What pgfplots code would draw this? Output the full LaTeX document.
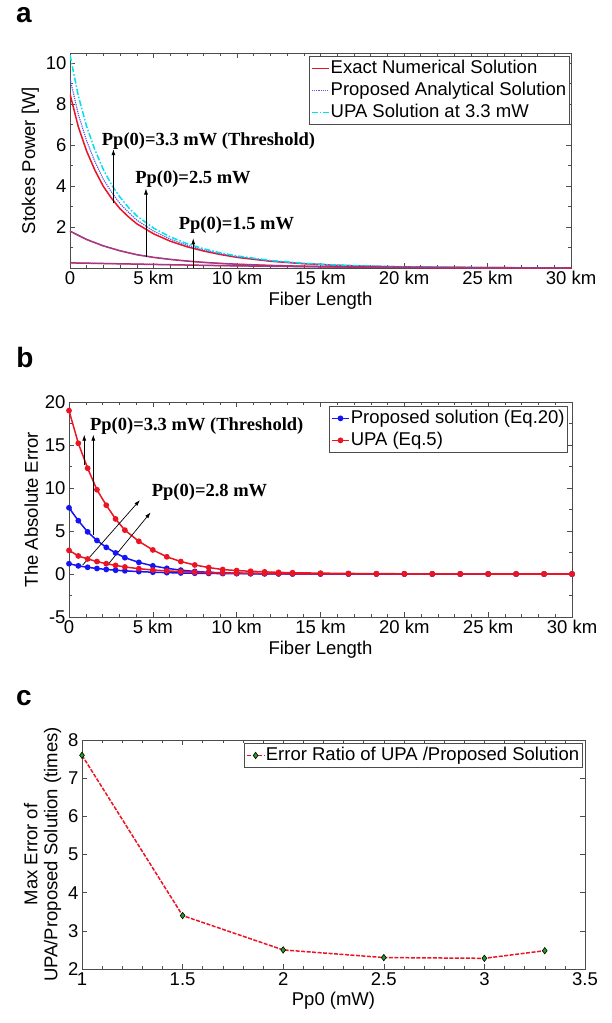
\documentclass[border=0pt]{standalone}
\usepackage{pgfplots}
\pgfplotsset{compat=1.18}
\usepackage{fontspec}
\setmainfont{Liberation Sans}
\newfontfamily\serifb{Liberation Serif}
\usetikzlibrary{arrows.meta}

\newcommand\fs{\fontsize{18.5}{20}\selectfont}
\newcommand\ann{\fontsize{18.5}{20}\selectfont\serifb\bfseries}

\definecolor{mred}{RGB}{235,20,35}
\definecolor{mdot}{RGB}{90,90,230}
\definecolor{mcyan}{RGB}{0,225,235}
\definecolor{mblue}{RGB}{20,20,245}
\definecolor{mgreen}{RGB}{30,160,30}

\tikzset{arr/.style={-{Latex[length=6pt,width=4pt]}, line width=0.7pt, black}}

\pgfplotsset{
  mstyle/.style={
    scale only axis,
    axis line style={black!70, line width=0.6pt},
    tick align=inside,
    major tick length=5pt, minor tick length=3pt,
    tick style={black!70, line width=0.5pt},
    tick label style={font=\fs},
    label style={font=\fs},
    /pgf/number format/assume math mode=true,
    legend style={font=\fs, draw=black!70, line width=0.6pt,
      inner xsep=2pt, inner ysep=2pt, row sep=2.5pt,
      nodes={inner sep=1pt, text height=13.5pt, text depth=4pt}},
    legend cell align=left,
  },
}

\begin{document}
\begin{tikzpicture}[x=1pt,y=1pt]
\useasboundingbox (0,0) rectangle (612,-1023);

% ---------- panel a ----------
\node[font=\fontsize{28}{30}\selectfont\bfseries] at (24,-15) {a};
\begin{axis}[mstyle,
  at={(70pt,-268pt)}, anchor=south west,
  width=501pt, height=215pt,
  xmin=0, xmax=30, ymin=0, ymax=10.5,
  xtick={0,5,...,30},
  xticklabels={0,5 km,10 km,15 km,20 km,25 km,30 km},
  minor x tick num=4,
  ytick={2,4,6,8,10}, minor ytick={1,3,5,7,9},
  xlabel={Fiber Length}, ylabel={Stokes Power [W]},
  legend style={at={(0.997,0.985)}, anchor=north east},
]
\node[anchor=south west, font=\fs, inner sep=0, yshift=4pt] at (rel axis cs:0,1) {x 10\textsuperscript{-5}};

% Pp(0)=3.3 mW
\addplot[mred, line width=1.5pt] coordinates {
 (0,8.5) (0.5,6.89) (1,5.70) (1.5,4.76) (2,3.98) (2.5,3.39) (3,2.89) (3.5,2.5)
 (4,2.16) (5,1.67) (6,1.31) (7,1.04) (8,0.83) (9,0.66) (10,0.52) (12,0.33)
 (14,0.21) (16,0.13) (18,0.083) (20,0.053) (22,0.034) (25,0.017) (28,0.0085) (30,0.0054)};
\addlegendentry{Exact Numerical Solution}
\addplot[mdot, line width=1.2pt, densely dotted] coordinates {
 (0,9.25) (0.5,7.5) (1,6.2) (1.5,5.18) (2,4.33) (2.5,3.69) (3,3.14) (3.5,2.72)
 (4,2.34) (5,1.80) (6,1.41) (7,1.11) (8,0.88) (9,0.70) (10,0.55) (12,0.345)
 (14,0.22) (16,0.135) (18,0.086) (20,0.055) (22,0.035) (25,0.018) (28,0.009) (30,0.0056)};
\addlegendentry{Proposed Analytical Solution}
\addplot[mcyan, line width=1.5pt, dash pattern=on 6pt off 2pt on 1.5pt off 2pt] coordinates {
 (0,10.4) (0.5,8.4) (1,6.9) (1.5,5.75) (2,4.8) (2.5,4.05) (3,3.45) (3.5,2.96)
 (4,2.55) (5,1.95) (6,1.52) (7,1.19) (8,0.94) (9,0.74) (10,0.59) (12,0.37)
 (14,0.23) (16,0.145) (18,0.092) (20,0.058) (22,0.037) (25,0.019) (28,0.0095) (30,0.006)};
\addlegendentry{UPA Solution at 3.3 mW}

% Pp(0)=2.5 mW
\addplot[mred, line width=1.5pt, forget plot] coordinates {
 (0,1.8) (1,1.39) (2,1.08) (3,0.84) (4,0.65) (5,0.52) (6,0.42) (7,0.34) (8,0.275)
 (9,0.225) (10,0.185) (12,0.125) (14,0.085) (16,0.058) (18,0.04) (20,0.027)
 (22,0.018) (25,0.01) (28,0.006) (30,0.004)};
\addplot[mdot, line width=1.2pt, densely dotted, forget plot] coordinates {
 (0,1.8) (1,1.39) (2,1.08) (3,0.84) (4,0.65) (5,0.52) (6,0.42) (7,0.34) (8,0.275)
 (9,0.225) (10,0.185) (12,0.125) (14,0.085) (16,0.058) (18,0.04) (20,0.027)
 (22,0.018) (25,0.01) (28,0.006) (30,0.004)};
% Pp(0)=1.5 mW
\addplot[mred, line width=1.5pt, forget plot] coordinates {
 (0,0.25) (2,0.22) (4,0.19) (6,0.16) (8,0.13) (10,0.105) (12,0.085) (15,0.06)
 (18,0.04) (21,0.025) (25,0.014) (30,0.007)};
\addplot[mdot, line width=1.2pt, densely dotted, forget plot] coordinates {
 (0,0.25) (2,0.22) (4,0.19) (6,0.16) (8,0.13) (10,0.105) (12,0.085) (15,0.06)
 (18,0.04) (21,0.025) (25,0.014) (30,0.007)};

\draw[arr] (axis cs:2.6,3.16) -- (axis cs:2.6,5.8);
\draw[arr] (axis cs:4.55,0.52) -- (axis cs:4.55,3.88);
\draw[arr] (axis cs:7.38,0) -- (axis cs:7.38,1.45);
\node[font=\ann, anchor=west, inner sep=0] at (axis cs:1.9,6.2) {Pp(0)=3.3 mW (Threshold)};
\node[font=\ann, anchor=west, inner sep=0] at (axis cs:3.9,4.35) {Pp(0)=2.5 mW};
\node[font=\ann, anchor=west, inner sep=0] at (axis cs:6.5,2.1) {Pp(0)=1.5 mW};
\end{axis}

% ---------- panel b ----------
\node[font=\fontsize{28}{30}\selectfont\bfseries] at (25,-357) {b};
\begin{axis}[mstyle,
  at={(69pt,-617pt)}, anchor=south west,
  width=503pt, height=215pt,
  xmin=0, xmax=30, ymin=-5, ymax=20,
  xtick={0,5,...,30},
  xticklabels={0,5 km,10 km,15 km,20 km,25 km,30 km},
  minor x tick num=4,
  ytick={-5,0,5,10,15,20}, yticklabels={-5,0,5,10,15,20},
  minor y tick num=1,
  xlabel={Fiber Length}, ylabel={The Absolute Error},
  legend style={at={(0.992,0.98)}, anchor=north east},
]
\node[anchor=south west, font=\fs, inner sep=0, yshift=4pt] at (rel axis cs:0,1) {x 10\textsuperscript{-6}};

\addplot[mblue, line width=1.5pt, mark=*, mark size=2.1pt] coordinates {
 (0,7.7) (0.556,6.2) (1.111,4.9) (1.667,3.9) (2.222,3.1) (2.778,2.45) (3.333,1.9)
 (4.167,1.35) (5.0,0.95) (5.833,0.66) (6.667,0.45) (7.5,0.3) (8.333,0.2) (9.167,0.14)
 (10.0,0.1) (10.833,0.07) (11.667,0.05) (12.5,0.035) (13.333,0.025) (15.0,0.015)
 (16.667,0.01) (18.333,0.006) (20.0,0.004) (21.667,0.003) (23.333,0.002) (25.0,0.001)
 (26.667,0.001) (28.333,0) (30.0,0)};
\addlegendentry{Proposed solution (Eq.20)}
\addplot[mblue, line width=1.5pt, mark=*, mark size=2.1pt, forget plot] coordinates {
 (0,1.2) (0.556,0.95) (1.111,0.78) (1.667,0.64) (2.222,0.53) (2.778,0.44) (3.333,0.37)
 (4.167,0.28) (5.0,0.21) (5.833,0.16) (6.667,0.12) (7.5,0.09) (8.333,0.07) (9.167,0.05)
 (10.0,0.04) (10.833,0.03) (11.667,0.02) (12.5,0.015) (13.333,0.01) (15.0,0.007)
 (16.667,0.004) (18.333,0.003) (20.0,0.002) (21.667,0.001) (23.333,0.001) (25.0,0)
 (26.667,0) (28.333,0) (30.0,0)};
\addplot[mred, line width=1.5pt, mark=*, mark size=2.1pt] coordinates {
 (0,19.0) (0.556,15.2) (1.111,12.3) (1.667,9.8) (2.222,8.0) (2.778,6.4) (3.333,5.1)
 (4.167,3.8) (5.0,2.8) (5.833,2.0) (6.667,1.45) (7.5,1.05) (8.333,0.75) (9.167,0.52)
 (10.0,0.40) (10.833,0.32) (11.667,0.25) (12.5,0.19) (13.333,0.15) (15.0,0.10)
 (16.667,0.065) (18.333,0.04) (20.0,0.025) (21.667,0.016) (23.333,0.01) (25.0,0.006)
 (26.667,0.004) (28.333,0.002) (30.0,0.001)};
\addlegendentry{UPA (Eq.5)}
\addplot[mred, line width=1.5pt, mark=*, mark size=2.1pt, forget plot] coordinates {
 (0,2.75) (0.556,2.1) (1.111,1.75) (1.667,1.45) (2.222,1.2) (2.778,1.0) (3.333,0.82)
 (4.167,0.62) (5.0,0.47) (5.833,0.36) (6.667,0.28) (7.5,0.21) (8.333,0.16) (9.167,0.12)
 (10.0,0.09) (10.833,0.07) (11.667,0.055) (12.5,0.04) (13.333,0.03) (15.0,0.02)
 (16.667,0.012) (18.333,0.008) (20.0,0.005) (21.667,0.003) (23.333,0.002) (25.0,0.001)
 (26.667,0.001) (28.333,0) (30.0,0)};

\draw[arr] (axis cs:0.91,12.7) -- (axis cs:0.91,16.2);
\draw[arr] (axis cs:1.45,4.5) -- (axis cs:1.45,16.2);
\draw[arr] (axis cs:0.82,1.05) -- (axis cs:4.23,8.6);
\draw[arr] (axis cs:2.35,1.16) -- (axis cs:4.87,7.17);
\node[font=\ann, anchor=west, inner sep=0] at (axis cs:1.25,17.2) {Pp(0)=3.3 mW (Threshold)};
\node[font=\ann, anchor=west, inner sep=0] at (axis cs:4.93,9.57) {Pp(0)=2.8 mW};
\end{axis}

% ---------- panel c ----------
\node[font=\fontsize{28}{30}\selectfont\bfseries] at (24,-698) {c};
\begin{axis}[mstyle,
  at={(82pt,-969pt)}, anchor=south west,
  width=503pt, height=229pt,
  xmin=1, xmax=3.5, ymin=2, ymax=8,
  xtick={1,1.5,...,3.5}, minor x tick num=4,
  ytick={2,3,...,8},
  xlabel={Pp0 (mW)},
  ylabel={Max Error of\\UPA/Proposed Solution (times)},
  ylabel style={align=center},
  legend style={at={(0.995,0.985)}, anchor=north east},
]
\addplot[mred, line width=1.5pt, dash pattern=on 4pt off 1.5pt,
  mark=diamond*, mark size=3.2pt,
  mark options={solid, fill=mgreen, draw=black, line width=0.6pt}] coordinates {
 (1,7.6) (1.5,3.4) (2,2.5) (2.5,2.3) (3,2.28) (3.3,2.48)};
\addlegendentry{Error Ratio of UPA /Proposed Solution}
\end{axis}
\end{tikzpicture}
\end{document}
